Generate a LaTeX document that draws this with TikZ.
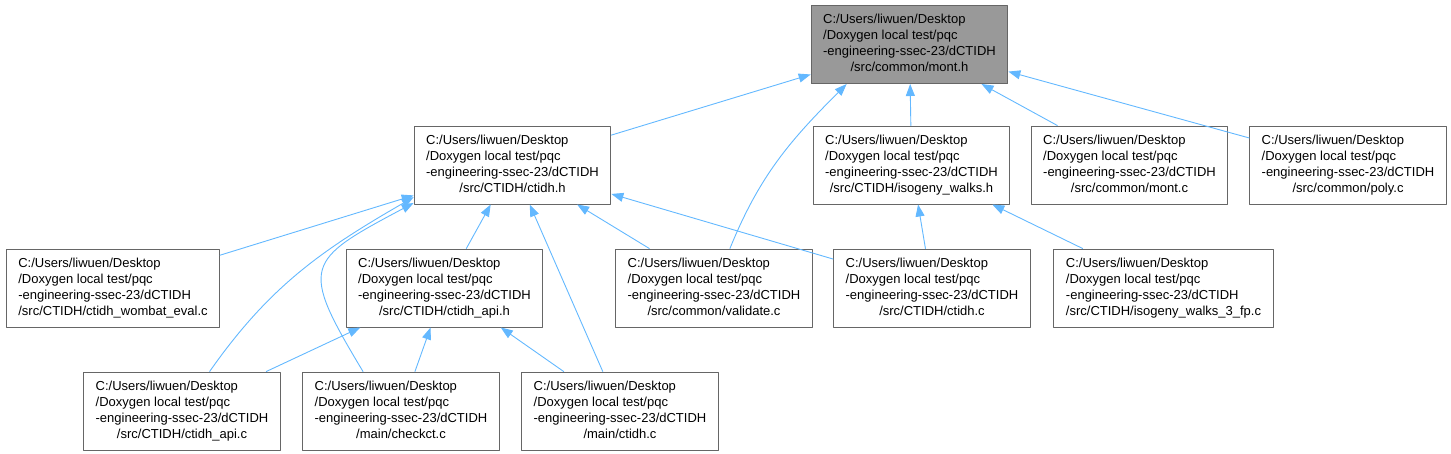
\documentclass[tikz,border=0pt]{standalone}
\usepackage{fontspec}
\setmainfont{Liberation Sans}
\usepackage{xcolor}
\usetikzlibrary{arrows.meta}
\definecolor{edgeblue}{HTML}{63B8FF}
\definecolor{boxgray}{HTML}{666666}
\definecolor{topgray}{HTML}{999999}
\newcommand{\fpath}[1]{\begin{tabular}{@{}l@{}}C:/Users/liwuen/Desktop\\/Doxygen local test/pqc\\-engineering-ssec-23/dCTIDH\\\multicolumn{1}{@{}c@{}}{#1}\end{tabular}}
\tikzset{
  every picture/.style={line join=round, line cap=round},
  fbox/.style={draw=boxgray, line width=1pt, fill=white, inner xsep=12pt, inner ysep=7pt,
    font=\fontsize{13}{16}\selectfont},
  dep/.style={draw=edgeblue, line width=0.9pt, -{Triangle[length=12pt,width=9pt]}},
}

\begin{document}
\begin{tikzpicture}[x=1pt,y=1pt]
\useasboundingbox (0,0) rectangle (1451,-453);
\node[fbox,fill=topgray] (mont) at (909.5,-44.5) {\fpath{/src/common/mont.h}};
\node[fbox] (ctidhh) at (512.5,-165) {\fpath{/src/CTIDH/ctidh.h}};
\node[fbox] (walksh) at (911.5,-165) {\fpath{/src/CTIDH/isogeny\_walks.h}};
\node[fbox] (montc) at (1129.5,-165) {\fpath{/src/common/mont.c}};
\node[fbox] (polyc) at (1348,-165) {\fpath{/src/common/poly.c}};
\node[fbox] (wombat) at (113,-288) {\fpath{/src/CTIDH/ctidh\_wombat\_eval.c}};
\node[fbox] (apih) at (444.5,-288) {\fpath{/src/CTIDH/ctidh\_api.h}};
\node[fbox] (validc) at (714,-288) {\fpath{/src/common/validate.c}};
\node[fbox] (ctidhc) at (932,-288) {\fpath{/src/CTIDH/ctidh.c}};
\node[fbox] (walksc) at (1163.5,-288) {\fpath{/src/CTIDH/isogeny\_walks\_3\_fp.c}};
\node[fbox] (apic) at (182,-411) {\fpath{/src/CTIDH/ctidh\_api.c}};
\node[fbox] (checkc) at (401,-411) {\fpath{/main/checkct.c}};
\node[fbox] (mainc) at (620,-411) {\fpath{/main/ctidh.c}};

\draw[dep] (ctidhh) -- (mont);
\draw[dep] (validc) to[out=68,in=225] ([xshift=36pt]mont.south west);
\draw[dep] (walksh) -- (mont);
\draw[dep] (montc) -- (mont);
\draw[dep] (polyc) -- (mont);
\draw[dep] (wombat) -- (ctidhh);
\draw[dep] (apih) -- (ctidhh);
\draw[dep] (validc) -- (ctidhh);
\draw[dep] (ctidhc) -- (ctidhh);
\draw[dep] (mainc) -- (ctidhh);
\draw[dep] (apic) to[out=55,in=210] (ctidhh.198);
\draw[dep] ([xshift=-38pt]checkc.north) to[out=121,in=208,looseness=1.8] (ctidhh.201);
\draw[dep] (ctidhc) -- (walksh);
\draw[dep] (walksc) -- (walksh);
\draw[dep] (apic) -- (apih);
\draw[dep] (checkc) -- (apih);
\draw[dep] (mainc) -- (apih);
\end{tikzpicture}
\end{document}
